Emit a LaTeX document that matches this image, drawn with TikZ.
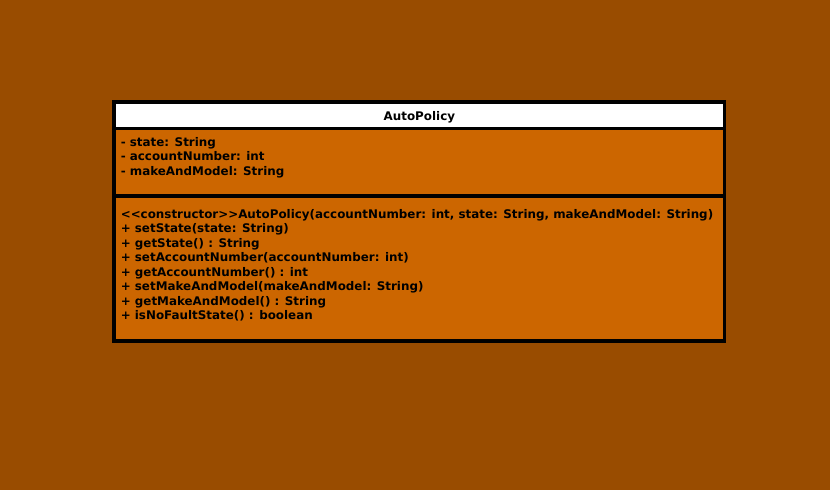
\documentclass[tikz,border=0pt]{standalone}
\usepackage{fontspec}
\setmainfont{DejaVu Sans}
\definecolor{bgbrown}{HTML}{994C00}
\definecolor{umlorange}{HTML}{CC6600}

\begin{document}
\begin{tikzpicture}[x=1pt,y=-1pt,part/.style={draw=black,line width=3.6pt,minimum width=610.3pt,inner sep=0pt,outer sep=0pt,fill=umlorange},lines/.style={anchor=north west,inner sep=0pt,align=left,font=\bfseries\fontsize{11.9}{14.45}\selectfont}]
\fill[bgbrown] (0,0) rectangle (830,490);
\node[part,minimum height=145pt] (methods) at (419.35,268.7) {};
\node[part,minimum height=67.9pt] (attrs) at (419.35,162.25) {};
\node[part,fill=white,minimum height=26.3pt] (title) at (419.35,115.15) {};
\node[lines,anchor=center] (titletext) at ([yshift=-2pt]title.center) {AutoPolicy};
\node[lines] (attrtext) at ([shift={(6.4,9)}]attrs.north west) {- state: String\\- accountNumber: int\\- makeAndModel: String};
\node[lines] (methtext) at ([shift={(6.4,13)}]methods.north west) {<{}<constructor>{}>AutoPolicy(accountNumber: int, state: String, makeAndModel: String)\\+ setState(state: String)\\+ getState() : String\\+ setAccountNumber(accountNumber: int)\\+ getAccountNumber() : int\\+ setMakeAndModel(makeAndModel: String)\\+ getMakeAndModel() : String\\+ isNoFaultState() : boolean};
\end{tikzpicture}
\end{document}
